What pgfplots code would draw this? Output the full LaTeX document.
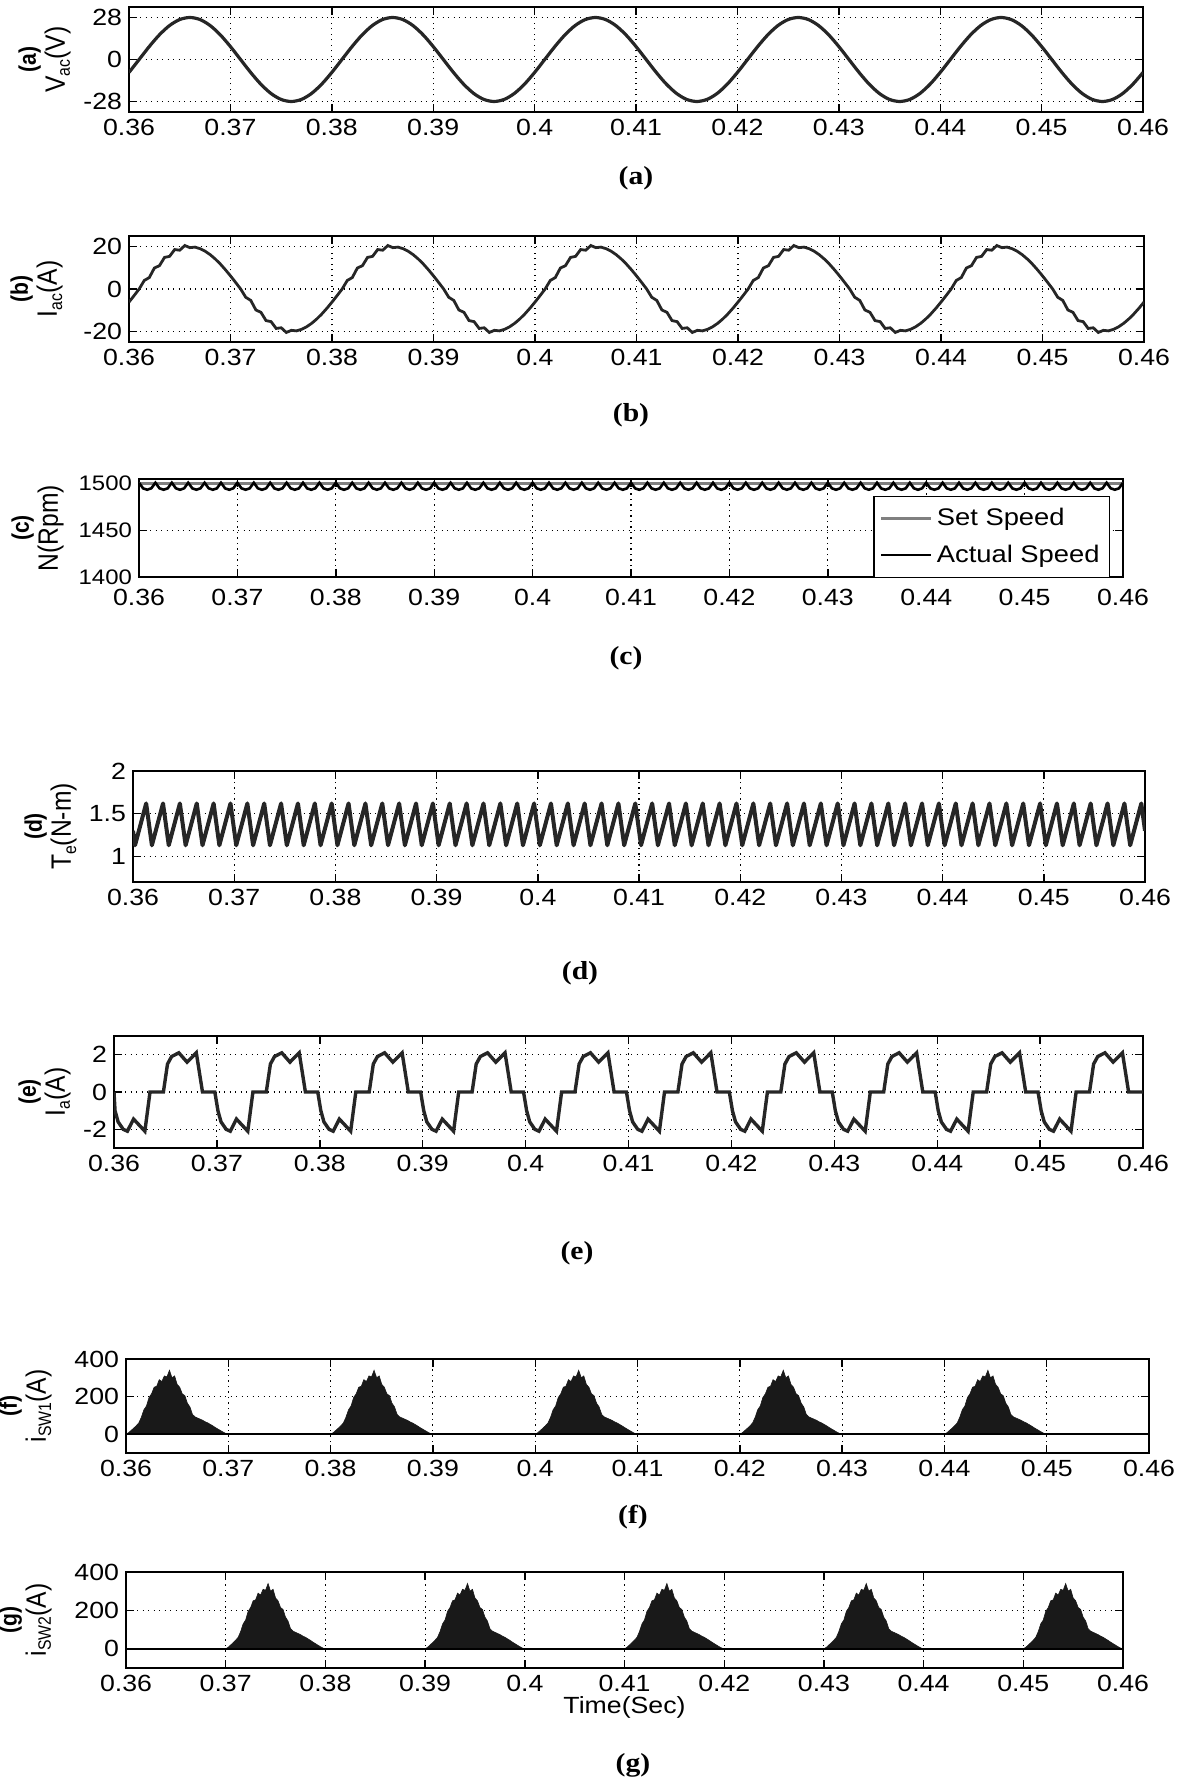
\documentclass[border=0pt]{standalone}
\usepackage{fontspec}
\setmainfont{Liberation Sans}[FakeStretch=1.14]
\newfontfamily\rotfont{Liberation Sans}[FakeStretch=0.88]
\newfontfamily\capfont{Liberation Serif}[FakeStretch=1.14]
\usepackage{pgfplots}
\pgfplotsset{compat=1.18}
\newcommand\sub[1]{\raisebox{-0.35ex}{\fontsize{9}{9}\selectfont #1}}
\newcommand\pl[1]{{\fontsize{12}{12}\selectfont\bfseries #1}}
\pgfplotsset{
  mat/.style={
    scale only axis, anchor=south west,
    xmin=360, xmax=460,
    xtick={360,370,380,390,400,410,420,430,440,450,460},
    xticklabels={0.36,0.37,0.38,0.39,0.4,0.41,0.42,0.43,0.44,0.45,0.46},
    tick align=inside,
    major tick length=4pt,
    every tick/.append style={black, line width=0.7pt},
    axis line style={black, line width=0.9pt},
    grid=major,
    major grid style={black, line width=0.55pt, dash pattern=on 0.55pt off 2.2pt},
    tick label style={font=\fontsize{11.7}{12}\selectfont, black},
    every axis y label/.style={rotate=90, anchor=south, inner sep=0pt, align=center, font=\rotfont\fontsize{14}{14.5}\selectfont},
  }
}
\begin{document}
\begin{tikzpicture}
\path[use as bounding box] (0pt,0pt) rectangle (590pt,-890pt);

% (a)
\begin{axis}[mat, at={(64.5pt,-56pt)}, width=507pt, height=52.5pt,
  ymin=-35, ymax=35, ytick={-28,0,28}, yticklabels={-28,0,28},
  ylabel={\pl{(a)}\\V\sub{ac}(V)},
  ylabel style={at={(axis description cs:-0.0572,0.5)}}]
\addplot[black!85, line width=1.6pt, smooth] coordinates {
(360,-8.65)(361,0)(362,8.65)(363,16.46)(364,22.65)(365,26.63)(366,28)(367,26.63)(368,22.65)(369,16.46)(370,8.65)(371,0)(372,-8.65)(373,-16.46)(374,-22.65)(375,-26.63)(376,-28)(377,-26.63)(378,-22.65)(379,-16.46)
(380,-8.65)(381,0)(382,8.65)(383,16.46)(384,22.65)(385,26.63)(386,28)(387,26.63)(388,22.65)(389,16.46)(390,8.65)(391,0)(392,-8.65)(393,-16.46)(394,-22.65)(395,-26.63)(396,-28)(397,-26.63)(398,-22.65)(399,-16.46)
(400,-8.65)(401,0)(402,8.65)(403,16.46)(404,22.65)(405,26.63)(406,28)(407,26.63)(408,22.65)(409,16.46)(410,8.65)(411,0)(412,-8.65)(413,-16.46)(414,-22.65)(415,-26.63)(416,-28)(417,-26.63)(418,-22.65)(419,-16.46)
(420,-8.65)(421,0)(422,8.65)(423,16.46)(424,22.65)(425,26.63)(426,28)(427,26.63)(428,22.65)(429,16.46)(430,8.65)(431,0)(432,-8.65)(433,-16.46)(434,-22.65)(435,-26.63)(436,-28)(437,-26.63)(438,-22.65)(439,-16.46)
(440,-8.65)(441,0)(442,8.65)(443,16.46)(444,22.65)(445,26.63)(446,28)(447,26.63)(448,22.65)(449,16.46)(450,8.65)(451,0)(452,-8.65)(453,-16.46)(454,-22.65)(455,-26.63)(456,-28)(457,-26.63)(458,-22.65)(459,-16.46)
(460,-8.65)};
\end{axis}

% (b)
\begin{axis}[mat, at={(64.5pt,-171pt)}, width=507.5pt, height=53pt,
  ymin=-25, ymax=25, ytick={-20,0,20}, yticklabels={-20,0,20},
  ylabel={\pl{(b)}\\I\sub{ac}(A)},
  ylabel style={at={(axis description cs:-0.065,0.5)}}]
\addplot[black!85, line width=1.4pt] coordinates {
(360,-6.18)(360.5,-3.13)(361,0)(361.5,4.0)(362,5.4)(362.5,9.9)(363,11.0)(363.5,14.9)(364,15.4)(364.5,18.6)(365,18.3)(365.5,20.5)(366,19.5)(366.5,19.75)(367,19.02)(367.5,17.82)(368,16.18)(368.5,14.14)(369,11.76)(369.5,9.08)(370,6.18)(370.5,3.13)(371,0)(371.5,-3.9)(372,-5.4)(372.5,-9.9)(373,-11.0)(373.5,-14.9)(374,-15.4)(374.5,-18.6)(375,-18.3)(375.5,-20.5)(376,-19.5)(376.5,-19.75)(377,-19.02)(377.5,-17.82)(378,-16.18)(378.5,-14.14)(379,-11.76)(379.5,-9.08)
(380,-6.18)(380.5,-3.13)(381,0)(381.5,4.0)(382,5.4)(382.5,9.9)(383,11.0)(383.5,14.9)(384,15.4)(384.5,18.6)(385,18.3)(385.5,20.5)(386,19.5)(386.5,19.75)(387,19.02)(387.5,17.82)(388,16.18)(388.5,14.14)(389,11.76)(389.5,9.08)(390,6.18)(390.5,3.13)(391,0)(391.5,-3.9)(392,-5.4)(392.5,-9.9)(393,-11.0)(393.5,-14.9)(394,-15.4)(394.5,-18.6)(395,-18.3)(395.5,-20.5)(396,-19.5)(396.5,-19.75)(397,-19.02)(397.5,-17.82)(398,-16.18)(398.5,-14.14)(399,-11.76)(399.5,-9.08)
(400,-6.18)(400.5,-3.13)(401,0)(401.5,4.0)(402,5.4)(402.5,9.9)(403,11.0)(403.5,14.9)(404,15.4)(404.5,18.6)(405,18.3)(405.5,20.5)(406,19.5)(406.5,19.75)(407,19.02)(407.5,17.82)(408,16.18)(408.5,14.14)(409,11.76)(409.5,9.08)(410,6.18)(410.5,3.13)(411,0)(411.5,-3.9)(412,-5.4)(412.5,-9.9)(413,-11.0)(413.5,-14.9)(414,-15.4)(414.5,-18.6)(415,-18.3)(415.5,-20.5)(416,-19.5)(416.5,-19.75)(417,-19.02)(417.5,-17.82)(418,-16.18)(418.5,-14.14)(419,-11.76)(419.5,-9.08)
(420,-6.18)(420.5,-3.13)(421,0)(421.5,4.0)(422,5.4)(422.5,9.9)(423,11.0)(423.5,14.9)(424,15.4)(424.5,18.6)(425,18.3)(425.5,20.5)(426,19.5)(426.5,19.75)(427,19.02)(427.5,17.82)(428,16.18)(428.5,14.14)(429,11.76)(429.5,9.08)(430,6.18)(430.5,3.13)(431,0)(431.5,-3.9)(432,-5.4)(432.5,-9.9)(433,-11.0)(433.5,-14.9)(434,-15.4)(434.5,-18.6)(435,-18.3)(435.5,-20.5)(436,-19.5)(436.5,-19.75)(437,-19.02)(437.5,-17.82)(438,-16.18)(438.5,-14.14)(439,-11.76)(439.5,-9.08)
(440,-6.18)(440.5,-3.13)(441,0)(441.5,4.0)(442,5.4)(442.5,9.9)(443,11.0)(443.5,14.9)(444,15.4)(444.5,18.6)(445,18.3)(445.5,20.5)(446,19.5)(446.5,19.75)(447,19.02)(447.5,17.82)(448,16.18)(448.5,14.14)(449,11.76)(449.5,9.08)(450,6.18)(450.5,3.13)(451,0)(451.5,-3.9)(452,-5.4)(452.5,-9.9)(453,-11.0)(453.5,-14.9)(454,-15.4)(454.5,-18.6)(455,-18.3)(455.5,-20.5)(456,-19.5)(456.5,-19.75)(457,-19.02)(457.5,-17.82)(458,-16.18)(458.5,-14.14)(459,-11.76)(459.5,-9.08)
(460,-6.18)};
\end{axis}

% (c)
\begin{axis}[mat, at={(69.5pt,-288.5pt)}, width=492pt, height=49pt,
  ymin=1400, ymax=1505, ytick={1400,1450,1500}, yticklabels={1400,1450,1500},
  yticklabel style={font=\fontsize{10.5}{11}\selectfont},
  xticklabel style={yshift=-2.5pt},
  ylabel={\pl{(c)}\\N(Rpm)},
  ylabel style={at={(axis description cs:-0.0762,0.5)}},
  legend style={at={(0.987,-0.01)}, anchor=south east, draw=black, line width=0.6pt, fill=white,
    font=\fontsize{12}{13}\selectfont, inner xsep=3pt, inner ysep=4pt, row sep=4pt, cells={anchor=west}},
  legend image code/.code={\draw[#1] (0pt,0pt) -- (25pt,0pt);}]
\addplot[black!50, line width=1.4pt] coordinates {(360,1500)(460,1500)};
\addlegendentry{Set Speed}
\addplot[black, line width=1.3pt] coordinates {
(360,1501)(360.417,1495)(360.833,1493.5)(361.25,1495)(361.667,1501)(362.083,1495)(362.5,1493.5)(362.917,1495)(363.333,1501)(363.75,1495)(364.167,1493.5)(364.583,1495)
(365,1501)(365.417,1495)(365.833,1493.5)(366.25,1495)(366.667,1501)(367.083,1495)(367.5,1493.5)(367.917,1495)(368.333,1501)(368.75,1495)(369.167,1493.5)(369.583,1495)
(370,1501)(370.417,1495)(370.833,1493.5)(371.25,1495)(371.667,1501)(372.083,1495)(372.5,1493.5)(372.917,1495)(373.333,1501)(373.75,1495)(374.167,1493.5)(374.583,1495)
(375,1501)(375.417,1495)(375.833,1493.5)(376.25,1495)(376.667,1501)(377.083,1495)(377.5,1493.5)(377.917,1495)(378.333,1501)(378.75,1495)(379.167,1493.5)(379.583,1495)
(380,1501)(380.417,1495)(380.833,1493.5)(381.25,1495)(381.667,1501)(382.083,1495)(382.5,1493.5)(382.917,1495)(383.333,1501)(383.75,1495)(384.167,1493.5)(384.583,1495)
(385,1501)(385.417,1495)(385.833,1493.5)(386.25,1495)(386.667,1501)(387.083,1495)(387.5,1493.5)(387.917,1495)(388.333,1501)(388.75,1495)(389.167,1493.5)(389.583,1495)
(390,1501)(390.417,1495)(390.833,1493.5)(391.25,1495)(391.667,1501)(392.083,1495)(392.5,1493.5)(392.917,1495)(393.333,1501)(393.75,1495)(394.167,1493.5)(394.583,1495)
(395,1501)(395.417,1495)(395.833,1493.5)(396.25,1495)(396.667,1501)(397.083,1495)(397.5,1493.5)(397.917,1495)(398.333,1501)(398.75,1495)(399.167,1493.5)(399.583,1495)
(400,1501)(400.417,1495)(400.833,1493.5)(401.25,1495)(401.667,1501)(402.083,1495)(402.5,1493.5)(402.917,1495)(403.333,1501)(403.75,1495)(404.167,1493.5)(404.583,1495)
(405,1501)(405.417,1495)(405.833,1493.5)(406.25,1495)(406.667,1501)(407.083,1495)(407.5,1493.5)(407.917,1495)(408.333,1501)(408.75,1495)(409.167,1493.5)(409.583,1495)
(410,1501)(410.417,1495)(410.833,1493.5)(411.25,1495)(411.667,1501)(412.083,1495)(412.5,1493.5)(412.917,1495)(413.333,1501)(413.75,1495)(414.167,1493.5)(414.583,1495)
(415,1501)(415.417,1495)(415.833,1493.5)(416.25,1495)(416.667,1501)(417.083,1495)(417.5,1493.5)(417.917,1495)(418.333,1501)(418.75,1495)(419.167,1493.5)(419.583,1495)
(420,1501)(420.417,1495)(420.833,1493.5)(421.25,1495)(421.667,1501)(422.083,1495)(422.5,1493.5)(422.917,1495)(423.333,1501)(423.75,1495)(424.167,1493.5)(424.583,1495)
(425,1501)(425.417,1495)(425.833,1493.5)(426.25,1495)(426.667,1501)(427.083,1495)(427.5,1493.5)(427.917,1495)(428.333,1501)(428.75,1495)(429.167,1493.5)(429.583,1495)
(430,1501)(430.417,1495)(430.833,1493.5)(431.25,1495)(431.667,1501)(432.083,1495)(432.5,1493.5)(432.917,1495)(433.333,1501)(433.75,1495)(434.167,1493.5)(434.583,1495)
(435,1501)(435.417,1495)(435.833,1493.5)(436.25,1495)(436.667,1501)(437.083,1495)(437.5,1493.5)(437.917,1495)(438.333,1501)(438.75,1495)(439.167,1493.5)(439.583,1495)
(440,1501)(440.417,1495)(440.833,1493.5)(441.25,1495)(441.667,1501)(442.083,1495)(442.5,1493.5)(442.917,1495)(443.333,1501)(443.75,1495)(444.167,1493.5)(444.583,1495)
(445,1501)(445.417,1495)(445.833,1493.5)(446.25,1495)(446.667,1501)(447.083,1495)(447.5,1493.5)(447.917,1495)(448.333,1501)(448.75,1495)(449.167,1493.5)(449.583,1495)
(450,1501)(450.417,1495)(450.833,1493.5)(451.25,1495)(451.667,1501)(452.083,1495)(452.5,1493.5)(452.917,1495)(453.333,1501)(453.75,1495)(454.167,1493.5)(454.583,1495)
(455,1501)(455.417,1495)(455.833,1493.5)(456.25,1495)(456.667,1501)(457.083,1495)(457.5,1493.5)(457.917,1495)(458.333,1501)(458.75,1495)(459.167,1493.5)(459.583,1495)
(460,1501)};
\addlegendentry{Actual Speed}
\end{axis}

% (d)
\begin{axis}[mat, at={(66.5pt,-441pt)}, width=506pt, height=55.5pt,
  ymin=0.7, ymax=2, ytick={1,1.5,2}, yticklabels={1,1.5,2},
  ylabel={\pl{(d)}\\T\sub{e}(N-m)},
  ylabel style={at={(axis description cs:-0.0553,0.5)}}]
\addplot[black!85, line width=2pt, line join=round] coordinates {
(360,1.3)
(360.2,1.13)(361.3,1.62)(361.867,1.13)(362.967,1.62)(363.533,1.13)(364.633,1.62)
(365.2,1.13)(366.3,1.62)(366.867,1.13)(367.967,1.62)(368.533,1.13)(369.633,1.62)
(370.2,1.13)(371.3,1.62)(371.867,1.13)(372.967,1.62)(373.533,1.13)(374.633,1.62)
(375.2,1.13)(376.3,1.62)(376.867,1.13)(377.967,1.62)(378.533,1.13)(379.633,1.62)
(380.2,1.13)(381.3,1.62)(381.867,1.13)(382.967,1.62)(383.533,1.13)(384.633,1.62)
(385.2,1.13)(386.3,1.62)(386.867,1.13)(387.967,1.62)(388.533,1.13)(389.633,1.62)
(390.2,1.13)(391.3,1.62)(391.867,1.13)(392.967,1.62)(393.533,1.13)(394.633,1.62)
(395.2,1.13)(396.3,1.62)(396.867,1.13)(397.967,1.62)(398.533,1.13)(399.633,1.62)
(400.2,1.13)(401.3,1.62)(401.867,1.13)(402.967,1.62)(403.533,1.13)(404.633,1.62)
(405.2,1.13)(406.3,1.62)(406.867,1.13)(407.967,1.62)(408.533,1.13)(409.633,1.62)
(410.2,1.13)(411.3,1.62)(411.867,1.13)(412.967,1.62)(413.533,1.13)(414.633,1.62)
(415.2,1.13)(416.3,1.62)(416.867,1.13)(417.967,1.62)(418.533,1.13)(419.633,1.62)
(420.2,1.13)(421.3,1.62)(421.867,1.13)(422.967,1.62)(423.533,1.13)(424.633,1.62)
(425.2,1.13)(426.3,1.62)(426.867,1.13)(427.967,1.62)(428.533,1.13)(429.633,1.62)
(430.2,1.13)(431.3,1.62)(431.867,1.13)(432.967,1.62)(433.533,1.13)(434.633,1.62)
(435.2,1.13)(436.3,1.62)(436.867,1.13)(437.967,1.62)(438.533,1.13)(439.633,1.62)
(440.2,1.13)(441.3,1.62)(441.867,1.13)(442.967,1.62)(443.533,1.13)(444.633,1.62)
(445.2,1.13)(446.3,1.62)(446.867,1.13)(447.967,1.62)(448.533,1.13)(449.633,1.62)
(450.2,1.13)(451.3,1.62)(451.867,1.13)(452.967,1.62)(453.533,1.13)(454.633,1.62)
(455.2,1.13)(456.3,1.62)(456.867,1.13)(457.967,1.62)(458.533,1.13)(459.633,1.62)
(460,1.3)};
\end{axis}

% (e)
\begin{axis}[mat, at={(57pt,-574pt)}, width=514.5pt, height=56pt,
  ymin=-3, ymax=3, ytick={-2,0,2}, yticklabels={-2,0,2},
  ylabel={\pl{(e)}\\I\sub{a}(A)},
  ylabel style={at={(axis description cs:-0.0418,0.5)}}]
\addplot[black!85, line width=1.7pt] coordinates {
(360,0)
(360.1,-1.0)(360.4,-1.6)(360.9,-2.0)(361.3,-2.1)(361.9,-1.45)(363,-2.1)(363.5,0)(364.8,0)(365.2,1.5)(365.6,1.9)(366.3,2.1)(367.1,1.6)(368,2.1)(368.6,0)(369.8,0)
(370.1,-1.0)(370.4,-1.6)(370.9,-2.0)(371.3,-2.1)(371.9,-1.45)(373,-2.1)(373.5,0)(374.8,0)(375.2,1.5)(375.6,1.9)(376.3,2.1)(377.1,1.6)(378,2.1)(378.6,0)(379.8,0)
(380.1,-1.0)(380.4,-1.6)(380.9,-2.0)(381.3,-2.1)(381.9,-1.45)(383,-2.1)(383.5,0)(384.8,0)(385.2,1.5)(385.6,1.9)(386.3,2.1)(387.1,1.6)(388,2.1)(388.6,0)(389.8,0)
(390.1,-1.0)(390.4,-1.6)(390.9,-2.0)(391.3,-2.1)(391.9,-1.45)(393,-2.1)(393.5,0)(394.8,0)(395.2,1.5)(395.6,1.9)(396.3,2.1)(397.1,1.6)(398,2.1)(398.6,0)(399.8,0)
(400.1,-1.0)(400.4,-1.6)(400.9,-2.0)(401.3,-2.1)(401.9,-1.45)(403,-2.1)(403.5,0)(404.8,0)(405.2,1.5)(405.6,1.9)(406.3,2.1)(407.1,1.6)(408,2.1)(408.6,0)(409.8,0)
(410.1,-1.0)(410.4,-1.6)(410.9,-2.0)(411.3,-2.1)(411.9,-1.45)(413,-2.1)(413.5,0)(414.8,0)(415.2,1.5)(415.6,1.9)(416.3,2.1)(417.1,1.6)(418,2.1)(418.6,0)(419.8,0)
(420.1,-1.0)(420.4,-1.6)(420.9,-2.0)(421.3,-2.1)(421.9,-1.45)(423,-2.1)(423.5,0)(424.8,0)(425.2,1.5)(425.6,1.9)(426.3,2.1)(427.1,1.6)(428,2.1)(428.6,0)(429.8,0)
(430.1,-1.0)(430.4,-1.6)(430.9,-2.0)(431.3,-2.1)(431.9,-1.45)(433,-2.1)(433.5,0)(434.8,0)(435.2,1.5)(435.6,1.9)(436.3,2.1)(437.1,1.6)(438,2.1)(438.6,0)(439.8,0)
(440.1,-1.0)(440.4,-1.6)(440.9,-2.0)(441.3,-2.1)(441.9,-1.45)(443,-2.1)(443.5,0)(444.8,0)(445.2,1.5)(445.6,1.9)(446.3,2.1)(447.1,1.6)(448,2.1)(448.6,0)(449.8,0)
(450.1,-1.0)(450.4,-1.6)(450.9,-2.0)(451.3,-2.1)(451.9,-1.45)(453,-2.1)(453.5,0)(454.8,0)(455.2,1.5)(455.6,1.9)(456.3,2.1)(457.1,1.6)(458,2.1)(458.6,0)(459.8,0)
(460,0)};
\end{axis}

% (f)
\begin{axis}[mat, at={(63pt,-726.5pt)}, width=511.5pt, height=47pt,
  ymin=-100, ymax=400, ytick={0,200,400}, yticklabels={0,200,400},
  ylabel={\pl{(f)}\\i\sub{SW1}(A)},
  ylabel style={at={(axis description cs:-0.0723,0.5)}}]
\addplot[fill=black!90, draw=black!90, line width=0.3pt] coordinates {
(360,0)(360.25,8)(360.5,20)(360.75,32)(361,45)(361.25,60)(361.5,90)(361.75,130)(362,150)(362.25,195)(362.5,215)(362.75,250)(363,255)(363.25,290)(363.5,280)(363.75,310)(364,305)(364.25,340)(364.5,300)(364.75,310)(365,265)(365.25,250)(365.5,215)(365.75,205)(366,165)(366.25,145)(366.5,105)(366.75,92)(367,86)(367.25,80)(367.5,74)(367.75,66)(368,60)(368.25,52)(368.5,44)(368.75,35)(369,27)(369.25,19)(369.5,11)(369.75,4)(370,0)
(380,0)(380.25,8)(380.5,20)(380.75,32)(381,45)(381.25,60)(381.5,90)(381.75,130)(382,150)(382.25,195)(382.5,215)(382.75,250)(383,255)(383.25,290)(383.5,280)(383.75,310)(384,305)(384.25,340)(384.5,300)(384.75,310)(385,265)(385.25,250)(385.5,215)(385.75,205)(386,165)(386.25,145)(386.5,105)(386.75,92)(387,86)(387.25,80)(387.5,74)(387.75,66)(388,60)(388.25,52)(388.5,44)(388.75,35)(389,27)(389.25,19)(389.5,11)(389.75,4)(390,0)
(400,0)(400.25,8)(400.5,20)(400.75,32)(401,45)(401.25,60)(401.5,90)(401.75,130)(402,150)(402.25,195)(402.5,215)(402.75,250)(403,255)(403.25,290)(403.5,280)(403.75,310)(404,305)(404.25,340)(404.5,300)(404.75,310)(405,265)(405.25,250)(405.5,215)(405.75,205)(406,165)(406.25,145)(406.5,105)(406.75,92)(407,86)(407.25,80)(407.5,74)(407.75,66)(408,60)(408.25,52)(408.5,44)(408.75,35)(409,27)(409.25,19)(409.5,11)(409.75,4)(410,0)
(420,0)(420.25,8)(420.5,20)(420.75,32)(421,45)(421.25,60)(421.5,90)(421.75,130)(422,150)(422.25,195)(422.5,215)(422.75,250)(423,255)(423.25,290)(423.5,280)(423.75,310)(424,305)(424.25,340)(424.5,300)(424.75,310)(425,265)(425.25,250)(425.5,215)(425.75,205)(426,165)(426.25,145)(426.5,105)(426.75,92)(427,86)(427.25,80)(427.5,74)(427.75,66)(428,60)(428.25,52)(428.5,44)(428.75,35)(429,27)(429.25,19)(429.5,11)(429.75,4)(430,0)
(440,0)(440.25,8)(440.5,20)(440.75,32)(441,45)(441.25,60)(441.5,90)(441.75,130)(442,150)(442.25,195)(442.5,215)(442.75,250)(443,255)(443.25,290)(443.5,280)(443.75,310)(444,305)(444.25,340)(444.5,300)(444.75,310)(445,265)(445.25,250)(445.5,215)(445.75,205)(446,165)(446.25,145)(446.5,105)(446.75,92)(447,86)(447.25,80)(447.5,74)(447.75,66)(448,60)(448.25,52)(448.5,44)(448.75,35)(449,27)(449.25,19)(449.5,11)(449.75,4)(450,0)
(460,0)} \closedcycle;
\addplot[black, line width=1pt] coordinates {(360,0)(460,0)};
\end{axis}

% (g)
\begin{axis}[mat, at={(63pt,-834pt)}, width=498.5pt, height=48pt,
  ymin=-100, ymax=400, ytick={0,200,400}, yticklabels={0,200,400},
  ylabel={\pl{(g)}\\i\sub{SW2}(A)},
  ylabel style={at={(axis description cs:-0.0742,0.5)}},
  xlabel={Time(Sec)},
  xlabel style={at={(axis description cs:0.5,-0.406)}, anchor=center, font=\fontsize{11.7}{12}\selectfont}]
\addplot[fill=black!90, draw=black!90, line width=0.3pt] coordinates {
(360,0)
(370,0)(370.25,8)(370.5,20)(370.75,32)(371,45)(371.25,60)(371.5,90)(371.75,130)(372,150)(372.25,195)(372.5,215)(372.75,250)(373,255)(373.25,290)(373.5,280)(373.75,310)(374,305)(374.25,340)(374.5,300)(374.75,310)(375,265)(375.25,250)(375.5,215)(375.75,205)(376,165)(376.25,145)(376.5,105)(376.75,92)(377,86)(377.25,80)(377.5,74)(377.75,66)(378,60)(378.25,52)(378.5,44)(378.75,35)(379,27)(379.25,19)(379.5,11)(379.75,4)(380,0)
(390,0)(390.25,8)(390.5,20)(390.75,32)(391,45)(391.25,60)(391.5,90)(391.75,130)(392,150)(392.25,195)(392.5,215)(392.75,250)(393,255)(393.25,290)(393.5,280)(393.75,310)(394,305)(394.25,340)(394.5,300)(394.75,310)(395,265)(395.25,250)(395.5,215)(395.75,205)(396,165)(396.25,145)(396.5,105)(396.75,92)(397,86)(397.25,80)(397.5,74)(397.75,66)(398,60)(398.25,52)(398.5,44)(398.75,35)(399,27)(399.25,19)(399.5,11)(399.75,4)(400,0)
(410,0)(410.25,8)(410.5,20)(410.75,32)(411,45)(411.25,60)(411.5,90)(411.75,130)(412,150)(412.25,195)(412.5,215)(412.75,250)(413,255)(413.25,290)(413.5,280)(413.75,310)(414,305)(414.25,340)(414.5,300)(414.75,310)(415,265)(415.25,250)(415.5,215)(415.75,205)(416,165)(416.25,145)(416.5,105)(416.75,92)(417,86)(417.25,80)(417.5,74)(417.75,66)(418,60)(418.25,52)(418.5,44)(418.75,35)(419,27)(419.25,19)(419.5,11)(419.75,4)(420,0)
(430,0)(430.25,8)(430.5,20)(430.75,32)(431,45)(431.25,60)(431.5,90)(431.75,130)(432,150)(432.25,195)(432.5,215)(432.75,250)(433,255)(433.25,290)(433.5,280)(433.75,310)(434,305)(434.25,340)(434.5,300)(434.75,310)(435,265)(435.25,250)(435.5,215)(435.75,205)(436,165)(436.25,145)(436.5,105)(436.75,92)(437,86)(437.25,80)(437.5,74)(437.75,66)(438,60)(438.25,52)(438.5,44)(438.75,35)(439,27)(439.25,19)(439.5,11)(439.75,4)(440,0)
(450,0)(450.25,8)(450.5,20)(450.75,32)(451,45)(451.25,60)(451.5,90)(451.75,130)(452,150)(452.25,195)(452.5,215)(452.75,250)(453,255)(453.25,290)(453.5,280)(453.75,310)(454,305)(454.25,340)(454.5,300)(454.75,310)(455,265)(455.25,250)(455.5,215)(455.75,205)(456,165)(456.25,145)(456.5,105)(456.75,92)(457,86)(457.25,80)(457.5,74)(457.75,66)(458,60)(458.25,52)(458.5,44)(458.75,35)(459,27)(459.25,19)(459.5,11)(459.75,4)(460,0)
} \closedcycle;
\addplot[black, line width=1pt] coordinates {(360,0)(460,0)};
\end{axis}

\begin{scope}[every node/.style={font=\capfont\bfseries\fontsize{13}{14}\selectfont}]
\node at (318pt,-89pt) {(a)};
\node at (315.5pt,-207.5pt) {(b)};
\node at (313pt,-329pt) {(c)};
\node at (290pt,-486.5pt) {(d)};
\node at (288.5pt,-626.5pt) {(e)};
\node at (316.5pt,-758.5pt) {(f)};
\node at (316.5pt,-882.5pt) {(g)};
\end{scope}
\end{tikzpicture}
\end{document}
